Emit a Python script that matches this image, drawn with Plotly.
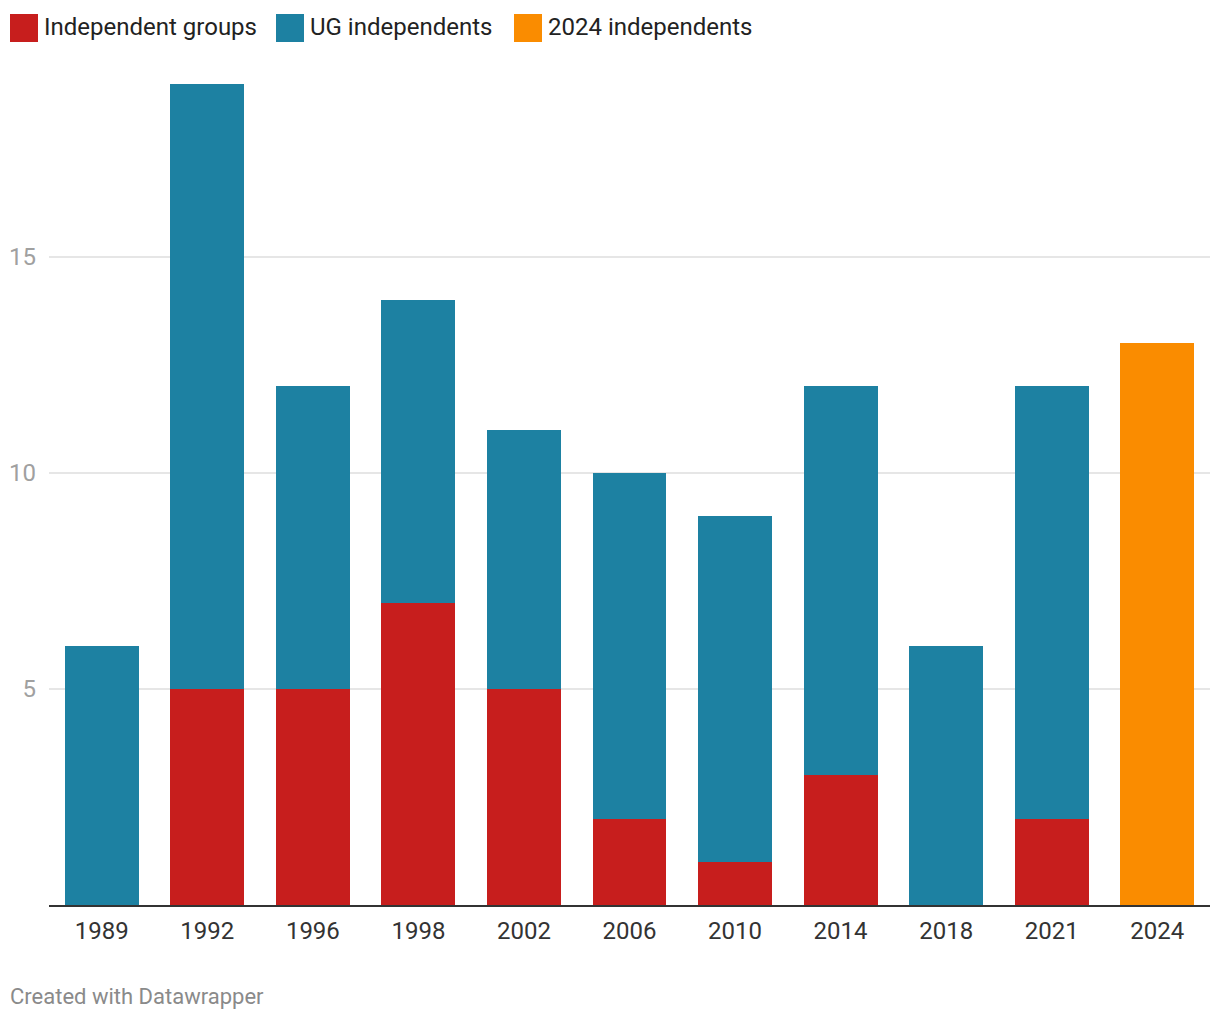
import plotly.graph_objects as go

years = ["1989", "1992", "1996", "1998", "2002", "2006", "2010", "2014", "2018", "2021", "2024"]
independent_groups = [0, 5, 5, 7, 5, 2, 1, 3, 0, 2, None]
ug_independents = [6, 14, 7, 7, 6, 8, 8, 9, 6, 10, None]
independents_2024 = [None, None, None, None, None, None, None, None, None, None, 13]

series_names = ["Independent groups", "UG independents", "2024 independents"]
series_colors = ["#c71e1d", "#1d81a2", "#fa8c00"]
y_ticks = [5, 10, 15]

FONT = "Roboto"

# plot area in page pixels: x 49..1210, y 84..905
PX0, PX1, PY0, PY1 = 49, 1210, 84, 905
W, H = PX1 - PX0, PY1 - PY0

def px(x):
    return (x - PX0) / W

def py(y):
    return (PY1 - y) / H

fig = go.Figure()
for name, vals, col in zip(series_names, [independent_groups, ug_independents, independents_2024], series_colors):
    fig.add_trace(go.Bar(x=years, y=vals, name=name, marker=dict(color=col, line=dict(width=0)),
                         showlegend=False, hoverinfo="x+y+name"))

fig.update_layout(
    barmode="stack",
    bargap=0.3,
    width=1212, height=1012,
    margin=dict(l=41, r=10, t=76, b=115, autoexpand=False),
    paper_bgcolor="white", plot_bgcolor="white",
    font=dict(family=FONT, size=24, color="#333333"),
    showlegend=False,
)
fig.update_xaxes(
    type="category", showgrid=False, showline=True, linecolor="#333333", linewidth=2,
    ticks="", tickfont=dict(family=FONT, size=24, color="#333333"), ticklabelstandoff=3,
    automargin=False,
)
fig.update_yaxes(
    range=[0, 19], tickvals=y_ticks, showgrid=True, gridcolor="#e6e6e6", gridwidth=2,
    zeroline=False, showline=False, ticks="",
    tickfont=dict(family=FONT, size=24, color="#a0a0a0"), ticklabelstandoff=12,
    automargin=False,
)

# Manual legend (swatches + labels)
legend_x = [10, 276, 514]
for x0, name, col in zip(legend_x, series_names, series_colors):
    fig.add_shape(type="rect", xref="paper", yref="paper",
                  x0=px(x0), x1=px(x0 + 28), y0=py(42), y1=py(14),
                  fillcolor=col, line=dict(width=0))
    fig.add_annotation(text=name, xref="paper", yref="paper",
                       x=px(x0 + 32), y=py(27),
                       xanchor="left", yanchor="middle", showarrow=False,
                       font=dict(family=FONT, size=24, color="#222222"))

fig.add_annotation(text="Created with Datawrapper", xref="paper", yref="paper",
                   x=px(8), y=py(997), xanchor="left", yanchor="middle",
                   showarrow=False, font=dict(family=FONT, size=22, color="#8a8a8a"))

fig.write_html("out.html")
